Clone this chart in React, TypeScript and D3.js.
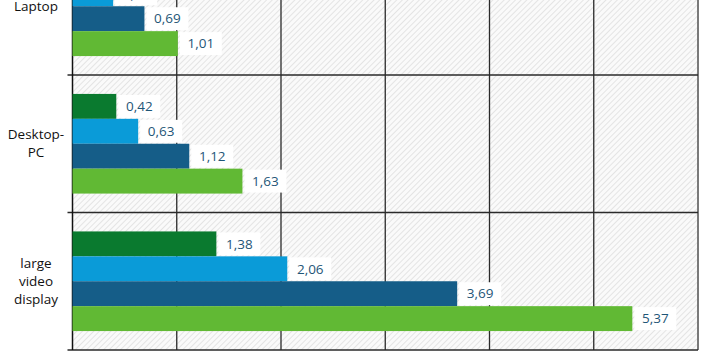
import React from "react";
import * as d3 from "d3";

const categories = ["Laptop", "Desktop-PC", "large video display"];
const categoryLines = [["Laptop"], ["Desktop-", "PC"], ["large", "video", "display"]];
const seriesNames = ["series 1", "series 2", "series 3", "series 4"];
const series1 = [0.26, 0.42, 1.38];
const series2 = [0.39, 0.63, 2.06];
const series3 = [0.69, 1.12, 3.69];
const series4 = [1.01, 1.63, 5.37];
const colors = ["#0a7a2f", "#0a9bd8", "#155d88", "#61b934"];
const xTicks = [0, 1, 2, 3, 4, 5, 6];

const W = 707;
const H = 354;
const margin = { left: 72.5, right: 9, top: -62.5, bottom: 4 };

const fmt = d3.formatLocale({
  decimal: ",",
  thousands: ".",
  grouping: [3],
  currency: ["", " €"],
}).format(".2f");

export default function App() {
  const allSeries = [series1, series2, series3, series4];

  const x = d3.scaleLinear().domain([0, 6]).range([margin.left, W - margin.right]);
  const y = d3.scaleBand().domain(categories).range([margin.top, H - margin.bottom]).padding(0);
  const ySub = d3
    .scaleBand()
    .domain(seriesNames)
    .range([0, y.bandwidth()])
    .paddingInner(0)
    .paddingOuter(0.76);

  const bounds = categories.map((c) => y(c)!).concat([H - margin.bottom]);

  return (
    <svg
      width={W}
      height={H}
      style={{ position: "absolute", left: 0, top: 0, fontFamily: "'Open Sans', sans-serif" }}
    >
      <defs>
        <pattern
          id="hatch"
          width="4"
          height="4"
          patternUnits="userSpaceOnUse"
          patternTransform="rotate(45)"
        >
          <rect width="4" height="4" fill="#fafafa" />
          <line x1="0" y1="0" x2="0" y2="4" stroke="#d9d9d9" strokeWidth="1.3" />
        </pattern>
      </defs>
      <rect width={W} height={H} fill="#fff" />
      <rect
        x={x(0)}
        y={margin.top}
        width={x(6) - x(0)}
        height={H - margin.bottom - margin.top}
        fill="url(#hatch)"
      />

      {/* vertical gridlines */}
      {xTicks.slice(1, -1).map((t) => (
        <line key={t} x1={x(t)} x2={x(t)} y1={margin.top} y2={H - margin.bottom} stroke="#2a2a2a" strokeWidth={1.3} />
      ))}
      <line x1={x(6)} x2={x(6)} y1={margin.top} y2={H - margin.bottom} stroke="#7a7a7a" strokeWidth={2} />

      {/* horizontal gridlines */}
      {bounds.map((b, i) => (
        <line key={i} x1={x(0) - 5} x2={x(6)} y1={b} y2={b} stroke="#2a2a2a" strokeWidth={1.3} />
      ))}
      <line x1={x(0)} x2={x(0)} y1={margin.top} y2={H - margin.bottom} stroke="#111" strokeWidth={1.5} />

      {/* bars */}
      {categories.map((c, ci) =>
        allSeries.map((s, si) => {
          const yy = y(c)! + ySub(seriesNames[si])!;
          const h = ySub.bandwidth();
          const xe = x(s[ci]);
          return (
            <g key={c + si}>
              <rect x={x(0)} y={yy} width={xe - x(0)} height={h} fill={colors[si]} />
              <rect x={xe + 2} y={yy + 1} width={42} height={h - 2} fill="#fff" />
              <text
                x={xe + 23}
                y={yy + h / 2}
                dy="0.35em"
                textAnchor="middle"
                fontSize={13.5}
                fill="#1f5677"
              >
                {fmt(s[ci])}
              </text>
            </g>
          );
        })
      )}

      {/* category labels */}
      {categories.map((c, ci) => {
        const lines = categoryLines[ci];
        const cy = y(c)! + y.bandwidth() / 2;
        const lh = 18;
        return (
          <text key={c} x={36} textAnchor="middle" fontSize={13.5} fill="#111">
            {lines.map((l, li) => (
              <tspan key={li} x={36} y={cy + (li - (lines.length - 1) / 2) * lh} dy="0.35em">
                {l}
              </tspan>
            ))}
          </text>
        );
      })}
    </svg>
  );
}
